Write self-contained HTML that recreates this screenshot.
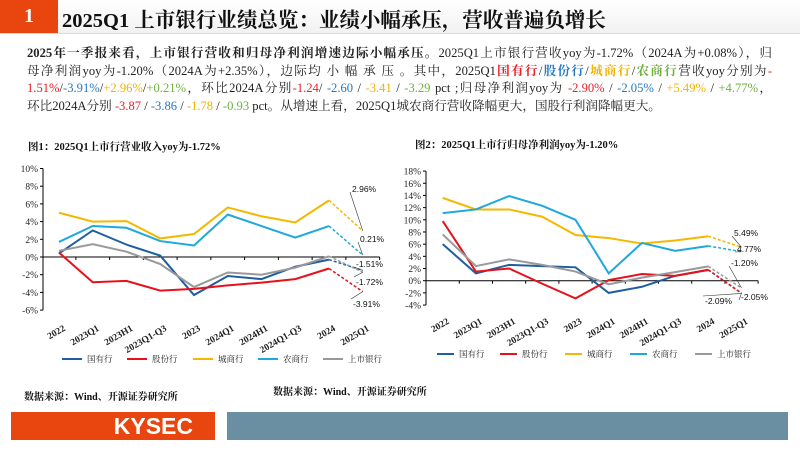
<!DOCTYPE html>
<html><head><meta charset="utf-8">
<style>
body{margin:0;width:800px;height:450px;overflow:hidden;background:#fff;font-family:"Liberation Serif","Noto Serif CJK SC",serif;position:relative}
#hdr{position:absolute;left:0;top:0;width:800px;height:33px;background:linear-gradient(#fff,#f2f2f2);border-bottom:1px solid #ddd}
#num{position:absolute;left:0;top:0;width:58px;height:33px;background:#e8450f;color:#fff;font-size:20px;font-weight:bold;text-align:center;line-height:33px}
#title{position:absolute;left:62px;top:3px;font-size:20.5px;font-weight:bold;color:#111;white-space:nowrap}
#para{position:absolute;left:27px;top:45px;width:745px;font-size:12.6px;line-height:17.7px;color:#222}
#para div{white-space:nowrap;text-align:justify;text-align-last:justify}
.r{color:#e8202a}.b{color:#2878c0}.y{color:#f0b400}.g{color:#70b040}
.src{position:absolute;font-size:10px;font-weight:bold;color:#111}
svg{position:absolute;left:0;top:0}
</style></head><body>
<div id="hdr"></div>
<div id="num">1</div>
<div id="title">2025Q1 上市银行业绩总览：业绩小幅承压，营收普遍负增长</div>
<div id="para">
<div><b>2025年一季报来看，上市银行营收和归母净利润增速边际小幅承压。</b>2025Q1上市银行营收yoy为-1.72%（2024A为+0.08%），归</div>
<div>母净利润yoy为-1.20%（2024A为+2.35%），边际均 小 幅 承 压 。其中，2025Q1<b class="r">国有行</b>/<b class="b">股份行</b>/<b class="y">城商行</b>/<b class="g">农商行</b>营收yoy分别为<span class="r">-</span></div>
<div><span class="r">1.51%</span>/<span class="b">-3.91%</span>/<span class="y">+2.96%</span>/<span class="g">+0.21%</span>，环比2024A分别<span class="r">-1.24</span>/ <span class="b">-2.60</span> / <span class="y">-3.41</span> / <span class="g">-3.29</span> pct ;归母净利润yoy为 <span class="r">-2.90%</span> / <span class="b">-2.05%</span> / <span class="y">+5.49%</span> / <span class="g">+4.77%</span>，</div>
<div style="text-align-last:left">环比2024A分别 <span class="r">-3.87</span> / <span class="b">-3.86</span> / <span class="y">-1.78</span> / <span class="g">-0.93</span> pct。从增速上看，2025Q1城农商行营收降幅更大，国股行利润降幅更大。</div>
</div>
<div class="src" style="left:24px;top:388px">数据来源：Wind、开源证券研究所</div>
<div class="src" style="left:273px;top:383px">数据来源：Wind、开源证券研究所</div>
<div style="position:absolute;left:11px;top:412px;width:204px;height:28px;background:#e8450f;color:#fff;font-family:'Liberation Sans',sans-serif;font-weight:bold;font-size:23px;line-height:28px;text-align:right;box-sizing:border-box;padding-right:22px">KYSEC</div>
<div style="position:absolute;left:227px;top:412px;width:561px;height:28px;background:#6a8fa3"></div>
<svg id="svg" width="800" height="450"></svg>
<script>
const categories=["2022","2023Q1","2023H1","2023Q1-Q3","2023","2024Q1","2024H1","2024Q1-Q3","2024","2025Q1"];
const seriesNames=["国有行","股份行","城商行","农商行","上市银行"];
const colors=["#1f5f9e","#e8101a","#f5b800","#1ea8dc","#999999"];
const rev_soe=[0.4,3.0,1.4,0.15,-4.3,-2.15,-2.5,-1.1,-0.3,-1.51];
const rev_jsb=[0.5,-2.85,-2.7,-3.8,-3.6,-3.2,-2.9,-2.5,-1.3,-3.91];
const rev_city=[5.0,4.0,4.05,2.1,2.6,5.6,4.6,3.9,6.4,2.96];
const rev_rural=[1.7,3.5,3.3,1.8,1.3,4.8,3.5,2.2,3.5,0.21];
const rev_all=[0.7,1.45,0.6,-0.8,-3.4,-1.75,-2.0,-1.2,0.08,-1.72];
const np_soe=[6.0,1.2,2.6,2.4,2.2,-2.0,-1.0,0.8,1.75,-2.09];
const np_jsb=[9.8,1.5,2.0,-0.5,-2.9,0.1,1.1,0.8,1.8,-2.05];
const np_city=[13.6,11.7,11.7,10.5,7.5,7.0,6.1,6.6,7.3,5.49];
const np_rural=[11.1,11.7,13.9,12.3,10.0,1.2,6.2,4.9,5.7,4.77];
const np_all=[7.6,2.4,3.5,2.6,1.5,-0.6,0.5,1.4,2.35,-1.20];
const revTicks=[10,8,6,4,2,0,-2,-4,-6];
const npTicks=[18,16,14,12,10,8,6,4,2,0,-2,-4];
const NS="http://www.w3.org/2000/svg",svg=document.getElementById('svg');
function mk(t,a,txt){const e=document.createElementNS(NS,t);for(const k in a)e.setAttribute(k,a[k]);if(txt!=null)e.textContent=txt;svg.appendChild(e);return e;}
function chart(o){
 const X=i=>o.x0+i*o.step, Y=v=>o.y0-(v/2)*o.per2;
 const t=mk('text',{x:o.tx,y:o.ty,'font-size':10.5,'font-weight':'bold',fill:'#111'},o.title);
 
 const ax=mk('line',{x1:o.ax,y1:Y(o.ticks[0]),x2:o.ax,y2:Y(o.ticks[o.ticks.length-1]),stroke:'#000','stroke-width':1});
 
 o.ticks.forEach(v=>{
  const l=mk('text',{x:o.ax-5,y:Y(v)+3.5,'font-size':9.5,'text-anchor':'end',fill:'#222'},v+'%');
  
  mk('line',{x1:o.ax-3,y1:Y(v),x2:o.ax,y2:Y(v),stroke:'#000'});
 });
 const xa=mk('line',{x1:o.ax,y1:Y(0),x2:X(9)+o.step/2,y2:Y(0),stroke:'#000'});
 
 categories.forEach((c,i)=>{
  mk('line',{x1:X(i)+o.step/2,y1:Y(0),x2:X(i)+o.step/2,y2:Y(0)+3,stroke:'#000'});
  const l=mk('text',{x:X(i)+7,y:o.xly,'font-size':9.5,'font-weight':'bold','text-anchor':'end',fill:'#222',transform:`rotate(-30 ${X(i)+7} ${o.xly})`},c);
  
 });
 o.data.forEach((d,s)=>{
  const pts=d.slice(0,9).map((v,i)=>X(i)+','+Y(v)).join(' ');
  const p=mk('polyline',{points:pts,fill:'none',stroke:colors[s],'stroke-width':2});
  
  const q=mk('line',{x1:X(8),y1:Y(d[8]),x2:X(9),y2:Y(d[9]),stroke:colors[s],'stroke-width':1.5,'stroke-dasharray':'3,2'});
  
 });
 o.labels.forEach(L=>{
  const v=o.data[L[0]][9];
  mk('line',{x1:X(9),y1:Y(v),x2:L[1]-2,y2:L[2]-8+(L[2]-8<Y(v)?8:0),stroke:'#333','stroke-width':0.6});
  const t=mk('text',{x:L[1],y:L[2],'font-size':8.5,fill:'#111','font-family':'Liberation Sans'},v.toFixed(2)+'%');
  
 });
 seriesNames.forEach((n,s)=>{
  const lx=o.lx[s];
  const l=mk('line',{x1:lx,y1:o.ly,x2:lx+o.sw,y2:o.ly,stroke:colors[s],'stroke-width':2});
  
  const t=mk('text',{x:lx+o.sw+5,y:o.ly+3,'font-size':8.5,fill:'#222'},n);
  
 });
}
chart({id:'revenue-chart',title:'图1：2025Q1上市行营业收入yoy为-1.72%',tx:28,ty:150,ax:43,x0:59,step:33.75,y0:257,per2:17.7,ticks:revTicks,xly:330,
 data:[rev_soe,rev_jsb,rev_city,rev_rural,rev_all],
 labels:[[2,352,192],[3,360,242],[0,356,267],[4,356,285],[1,353,307]],
 lx:[62,127,193,258,323],ly:359,sw:20});
chart({id:'profit-chart',title:'图2：2025Q1上市行归母净利润yoy为-1.20%',tx:415,ty:148,ax:426,x0:442.7,step:33.2,y0:280.7,per2:12.18,ticks:npTicks,xly:323,
 data:[np_soe,np_jsb,np_city,np_rural,np_all],
 labels:[[2,734,236],[3,737,252],[4,731,266],[0,705,304],[1,741,300]],
 lx:[437,500,565,630,695],ly:354,sw:17});
</script>
</body></html>
